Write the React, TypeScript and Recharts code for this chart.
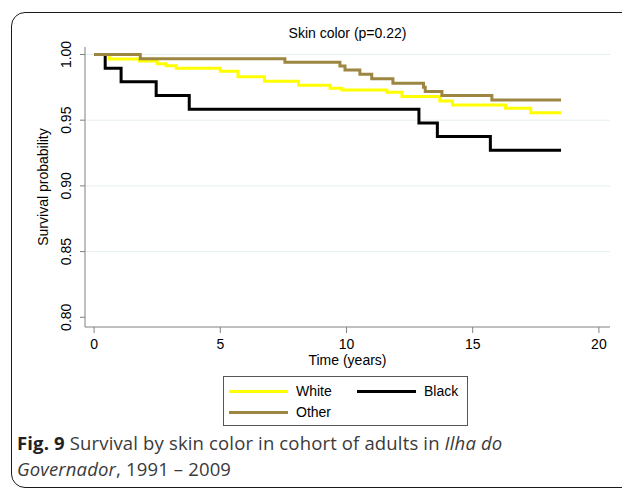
import { LineChart, Line, XAxis, YAxis, CartesianGrid, Label } from "recharts";

// Kaplan-Meier steps (time in years, survival probability)
const whiteTimes = [0, 0.6, 1.8, 2.5, 2.85, 3.25, 5.0, 5.7, 6.75, 8.1, 9.35, 9.82, 11.6, 12.2, 13.7, 14.2, 16.3, 17.3, 18.5];
const whiteSurv = [1.0, 0.9966, 0.995, 0.993, 0.9915, 0.9895, 0.9872, 0.983, 0.9796, 0.9765, 0.9743, 0.973, 0.9712, 0.968, 0.9646, 0.9616, 0.959, 0.9557, 0.9557];

const blackTimes = [0, 0.44, 1.07, 2.46, 3.77, 12.87, 13.6, 15.7, 18.5];
const blackSurv = [1.0, 0.9896, 0.9792, 0.9688, 0.9583, 0.9479, 0.9375, 0.9271, 0.9271];

const otherTimes = [0, 1.83, 7.56, 9.74, 9.94, 10.53, 11.0, 11.84, 13.05, 13.12, 13.78, 15.76, 18.5];
const otherSurv = [1.0, 0.9967, 0.9941, 0.9912, 0.9882, 0.985, 0.9815, 0.9781, 0.975, 0.9718, 0.9688, 0.9654, 0.9654];

const xTicks = [0, 5, 10, 15, 20];
const yTicks = [0.8, 0.85, 0.9, 0.95, 1.0];
const gridValues = [0.85, 0.9, 0.95, 1.0];

const toPoints = (times: number[], surv: number[]) =>
  times.map((t, i) => ({ t, s: surv[i] }));

const series = [
  { name: "White", color: "#ffff00", data: toPoints(whiteTimes, whiteSurv) },
  { name: "Black", color: "#000000", data: toPoints(blackTimes, blackSurv) },
  { name: "Other", color: "#9c8642", data: toPoints(otherTimes, otherSurv) },
];

const FONT = "'Liberation Sans', Arial, sans-serif";

// rotated y tick labels like Stata
const YTick = ({ x, y, payload }: any) => {
  const bx = x - 7;
  return (
    <text
      x={bx}
      y={y}
      textAnchor="middle"
      transform={`rotate(-90, ${bx}, ${y})`}
      style={{ fontSize: 14, fill: "#000", fontFamily: FONT }}
    >
      {payload.value.toFixed(2)}
    </text>
  );
};

const LegendBox = () => {
  const rows = [[series[0], series[1]], [series[2]]];
  return (
    <div
      style={{
        position: "absolute",
        left: 223,
        top: 376,
        width: 245,
        height: 50,
        border: "1px solid #555",
        background: "#fff",
        fontFamily: FONT,
        fontSize: 14,
        boxSizing: "border-box",
      }}
    >
      {rows.map((row, r) => (
        <div key={r} style={{ position: "absolute", top: 6 + r * 21, left: 5, display: "flex" }}>
          {row.map((s) => (
            <div key={s.name} style={{ display: "flex", alignItems: "center", width: 128 }}>
              <div style={{ width: 59, height: 3, background: s.color }} />
              <span style={{ marginLeft: 8, lineHeight: "16px" }}>{s.name}</span>
            </div>
          ))}
        </div>
      ))}
    </div>
  );
};

export default function App() {
  return (
    <div style={{ position: "absolute", left: 0, top: 0, width: 622, height: 489, overflow: "hidden", background: "#fff" }}>
      <div
        style={{
          position: "absolute",
          left: 11,
          top: 12,
          width: 640,
          height: 476,
          border: "1.5px solid #1a1a1a",
          borderRadius: 14,
          boxSizing: "border-box",
        }}
      />
      <div
        style={{
          position: "absolute",
          left: 85,
          width: 525,
          top: 24,
          textAlign: "center",
          fontFamily: FONT,
          fontSize: 14,
          lineHeight: "18px",
        }}
      >
        Skin color (p=0.22)
      </div>
      <div style={{ position: "absolute", left: 0, top: 0 }}>
        <LineChart width={622} height={380} data={series[0].data} margin={{ top: 47, right: 12, bottom: 0, left: 0 }}>
          <CartesianGrid horizontal vertical={false} horizontalValues={gridValues} stroke="#e6eff1" strokeWidth={1} />
          <XAxis
            type="number"
            dataKey="t"
            domain={[-0.36, 20.44]}
            ticks={xTicks}
            allowDataOverflow
            stroke="#808080"
            tickSize={6}
            tickMargin={6}
            height={53}
            tick={{ fontSize: 14, fill: "#000", fontFamily: FONT }}
          >
            <Label
              content={({ viewBox }: any) => (
                <text
                  x={viewBox.x + viewBox.width / 2}
                  y={viewBox.y + 38}
                  textAnchor="middle"
                  style={{ fontSize: 14, fill: "#000", fontFamily: FONT }}
                >
                  Time (years)
                </text>
              )}
            />
          </XAxis>
          <YAxis
            type="number"
            domain={[0.7926, 1.0057]}
            ticks={yTicks}
            allowDataOverflow
            stroke="#808080"
            tickSize={5}
            width={85}
            tick={<YTick />}
          >
            <Label
              content={({ viewBox }: any) => {
                const cx = viewBox.x + 48;
                const cy = viewBox.y + viewBox.height / 2;
                return (
                  <text
                    x={cx}
                    y={cy}
                    textAnchor="middle"
                    transform={`rotate(-90, ${cx}, ${cy})`}
                    style={{ fontSize: 14, fill: "#000", fontFamily: FONT }}
                  >
                    Survival probability
                  </text>
                );
              }}
            />
          </YAxis>
          {series.map((s) => (
            <Line
              key={s.name}
              data={s.data}
              dataKey="s"
              name={s.name}
              type="stepAfter"
              stroke={s.color}
              strokeWidth={3}
              dot={false}
              activeDot={false}
              isAnimationActive={false}
            />
          ))}
        </LineChart>
      </div>
      <LegendBox />
      <div
        style={{
          position: "absolute",
          left: 17,
          top: 430,
          width: 600,
          fontFamily: "'Open Sans', 'Noto Sans', sans-serif",
          fontSize: 18.5,
          letterSpacing: 0.15,
          lineHeight: "25.5px",
          color: "#3a3a3a",
          whiteSpace: "nowrap",
        }}
      >
        <div>
          <b style={{ color: "#222" }}>Fig. 9</b> Survival by skin color in cohort of adults in <i>Ilha do</i>
        </div>
        <div>
          <i>Governador</i>, 1991 – 2009
        </div>
      </div>
    </div>
  );
}
